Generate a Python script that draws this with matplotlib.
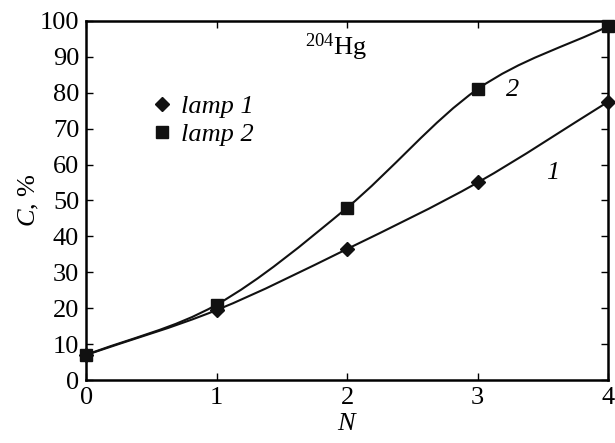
import numpy as np
import matplotlib
matplotlib.use("Agg")
from matplotlib import pyplot as plt
from matplotlib.path import Path
from matplotlib.patches import PathPatch

plt.rcParams['font.family'] = ['Liberation Serif', 'DejaVu Serif']
plt.rcParams['mathtext.fontset'] = 'custom'
plt.rcParams['mathtext.rm'] = 'Liberation Serif'
plt.rcParams['mathtext.it'] = 'Liberation Serif:italic'

# data
N = [0, 1, 2, 3, 4]
lamp1 = [7, 19.5, 36.5, 55, 77.5]
lamp2 = [7, 21, 48, 81, 98.5]


def smooth_path(x, y):
    # Catmull-Rom segments as cubic Bezier curves
    x = np.asarray(x, float)
    y = np.asarray(y, float)
    px = np.concatenate([[2 * x[0] - x[1]], x, [2 * x[-1] - x[-2]]])
    py = np.concatenate([[2 * y[0] - y[1]], y, [2 * y[-1] - y[-2]]])
    verts = [(x[0], y[0])]
    codes = [Path.MOVETO]
    for i in range(1, len(px) - 2):
        c1 = (px[i] + (px[i + 1] - px[i - 1]) / 6, py[i] + (py[i + 1] - py[i - 1]) / 6)
        c2 = (px[i + 1] - (px[i + 2] - px[i]) / 6, py[i + 1] - (py[i + 2] - py[i]) / 6)
        verts += [c1, c2, (px[i + 1], py[i + 1])]
        codes += [Path.CURVE4] * 3
    return Path(verts, codes)


fig = plt.figure(figsize=(6.15, 4.43), dpi=100)
ax = fig.add_axes([0.14, 0.142, 0.849, 0.811])

ax.add_patch(PathPatch(smooth_path(N, lamp1), fill=False, lw=1.5, color='#111111', clip_on=False))
ax.add_patch(PathPatch(smooth_path(N, lamp2), fill=False, lw=1.5, color='#111111', clip_on=False))
ax.plot(N, lamp1, 'D', color='#111111', markersize=7, linestyle='none', label='lamp 1', clip_on=False, zorder=3)
ax.plot(N, lamp2, 's', color='#111111', markersize=8, linestyle='none', label='lamp 2', clip_on=False, zorder=3)

ax.set_xlim(0, 4)
ax.set_ylim(0, 100)
ax.set_xticks([0, 1, 2, 3, 4])
ax.set_yticks(range(0, 101, 10))
ax.tick_params(direction='in', top=True, right=True, length=5, width=1, labelsize=19, pad=5)
for s in ax.spines.values():
    s.set_linewidth(1.8)

ax.set_xlabel('$N$', fontsize=19, labelpad=3)
ax.set_ylabel('$C$, %', fontsize=19, labelpad=-1)

ax.text(1.68, 90.5, r'$^{204}$Hg', fontsize=19)
ax.text(3.52, 56, '1', fontsize=19, style='italic')
ax.text(3.22, 79, '2', fontsize=19, style='italic')

ax.legend(loc='upper left', bbox_to_anchor=(0.08, 0.86), frameon=False, handlelength=0.8,
          handletextpad=0.3, labelspacing=0.15, prop={'style': 'italic', 'size': 19})

plt.savefig("out.png", dpi=100)
